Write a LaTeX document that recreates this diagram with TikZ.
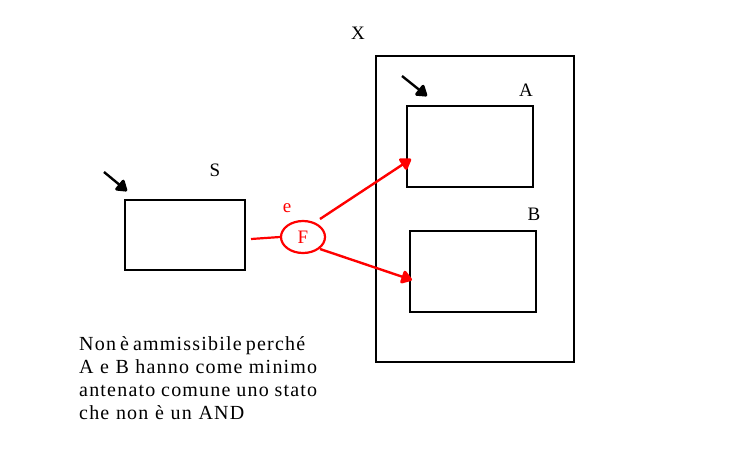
\documentclass[tikz,border=0pt]{standalone}
\usepackage{fontspec}
\setmainfont{Liberation Serif}[LetterSpace=6]
\usetikzlibrary{arrows.meta,shapes.geometric}
\begin{document}
\begin{tikzpicture}[x=1pt,y=-1pt,
  state/.style={draw,line width=1.6pt,inner sep=0pt},
  lbl/.style={font=\fontsize{19}{21}\selectfont,inner sep=0pt},
  blob/.style={-{Triangle[length=12pt,width=15pt,round,line width=3.5pt]}},
  initarr/.style={line width=2.4pt,blob},
  redarr/.style={red,line width=2.4pt,blob}]
\useasboundingbox (0,0) rectangle (730,475);
% S
\node[state,minimum width=120pt,minimum height=70pt] (S) at (185,235) {};
\node[lbl] (Sl) at (215,170) {S};
\coordinate (s0) at (104,172);
\coordinate (s1) at (127,191);
\draw[initarr] (s0) -- (s1);
% X
\node[state,minimum width=198pt,minimum height=306pt] (X) at (475,209) {};
\node[lbl] (Xl) at (358,33) {X};
% A
\node[state,minimum width=126pt,minimum height=81pt] (A) at (470,146.5) {};
\node[lbl] (Al) at (526,90) {A};
\coordinate (a0) at (402,76);
\coordinate (a1) at (427,96);
\draw[initarr] (a0) -- (a1);
% B
\node[state,minimum width=126pt,minimum height=81pt] (B) at (473,271.5) {};
\node[lbl] (Bl) at (534,214) {B};
% F
\node[draw=red,line width=2.2pt,ellipse,minimum width=44pt,minimum height=32pt,inner sep=0pt,text=red,font=\fontsize{19}{21}\selectfont] (F) at (303,237) {F};
\node[lbl,text=red] (e) at (287,208) {e};
\coordinate (fin) at (251,239);
\draw[red,line width=2.2pt] (fin) -- (F.west);
\coordinate (fa) at (320,219);
\coordinate (fb) at (320,249);
\coordinate (ta) at (411,159);
\coordinate (tb) at (412,280);
\draw[redarr] (fa) -- (ta);
\draw[redarr] (fb) -- (tb);
% text
\node[anchor=north west,inner sep=0pt,text width=240pt,align=left,font=\fontsize{20}{23}\selectfont] (txt) at (79,336)
{\makebox[226pt][l]{Non\hfill è\hfill ammissibile\hfill perché}\\
\makebox[238pt][l]{A\hfill e\hfill B\hfill hanno\hfill come\hfill minimo}\\
\makebox[238pt][l]{antenato\hfill comune\hfill uno\hfill stato}\\
che non è un AND};
\end{tikzpicture}
\end{document}
